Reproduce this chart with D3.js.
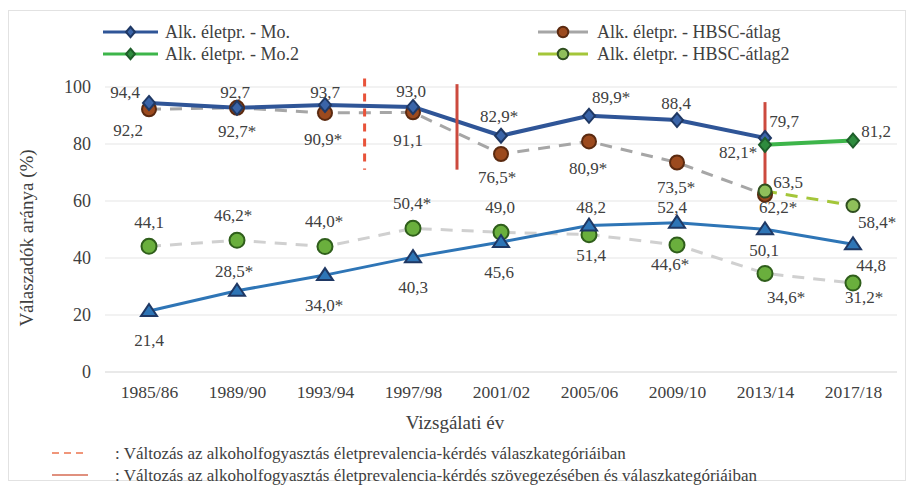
<!DOCTYPE html>
<html><head><meta charset="utf-8">
<script src="https://cdn.jsdelivr.net/npm/d3@7/dist/d3.min.js"></script>
<style>
body{margin:0;background:#fff}
svg text{font-family:"Liberation Serif","Times New Roman","DejaVu Serif",serif !important;fill:#404040}
</style>
</head><body><svg id="c" width="910" height="485"></svg>
<script>
// ---------- DATA ----------
const categories = ["1985/86","1989/90","1993/94","1997/98","2001/02","2005/06","2009/10","2013/14","2017/18"];
const yTicks = [0,20,40,60,80,100];

const moValues    = [94.4, 92.7, 93.7, 93.0, 82.9, 89.9, 88.4, 82.1, null];
const moLabels    = ["94,4","92,7","93,7","93,0","82,9*","89,9*","88,4","82,1*",null];
const mo2Values   = [null,null,null,null,null,null,null,79.7,81.2];
const mo2Labels   = [null,null,null,null,null,null,null,"79,7","81,2"];
const hbscValues  = [92.2, 92.7, 90.9, 91.1, 76.5, 80.9, 73.5, 62.2, null];
const hbscLabels  = ["92,2","92,7*","90,9*","91,1","76,5*","80,9*","73,5*","62,2*",null];
const hbsc2Values = [null,null,null,null,null,null,null,63.5,58.4];
const hbsc2Labels = [null,null,null,null,null,null,null,"63,5","58,4*"];
const triValues   = [21.4, 28.5, 34.0, 40.3, 45.6, 51.4, 52.4, 50.1, 44.8];
const triLabels   = ["21,4","28,5*","34,0*","40,3","45,6","51,4","52,4","50,1","44,8"];
const circValues  = [44.1, 46.2, 44.0, 50.4, 49.0, 48.2, 44.6, 34.6, 31.2];
const circLabels  = ["44,1","46,2*","44,0*","50,4*","49,0","48,2","44,6*","34,6*","31,2*"];

const legendNames = ["Alk. életpr. - Mo.","Alk. életpr. - Mo.2","Alk. életpr. - HBSC-átlag","Alk. életpr. - HBSC-átlag2"];
const changeMarks = [
  {after:"1993/94", frac:0.45, kind:"dashed", from:71, to:103},
  {after:"1997/98", frac:0.5,  kind:"solid",  from:71, to:101},
  {after:"2013/14", frac:0,    kind:"solid",  from:60, to:94.7}
];
const footnotes = [
  {kind:"dashed", text:": Változás az alkoholfogyasztás életprevalencia-kérdés válaszkategóriáiban"},
  {kind:"solid",  text:": Változás az alkoholfogyasztás életprevalencia-kérdés szövegezésében és válaszkategóriáiban"}
];
const xTitle = "Vizsgálati év";
const yTitle = "Válaszadók aránya (%)";

// ---------- LAYOUT / STYLE ----------
const FONT = '"Liberation Serif","Times New Roman","DejaVu Serif",serif';
const svg = d3.select("#c");
const x = d3.scalePoint().domain(categories).range([105,897]).padding(0.5);
const y = d3.scaleLinear().domain([0,100]).range([372,87]);
const FS = 17;

const labelOffsets = {
  mo:   [[-24,-10],[-2,-15],[0,-12],[-2,-15],[-2,-19],[22,-18],[-1,-17],[-27,14]],
  mo2:  [null,null,null,null,null,null,null,[19,-23],[23,-9]],
  hbsc: [[-21,21],[0,24],[-2,27],[-5,28],[-4,24],[-1,27],[-1,25],[13,13]],
  hbsc2:[null,null,null,null,null,null,null,[23,-9],[24,17]],
  circ: [[0,-24],[-4,-25],[-1,-25],[-1,-25],[-1,-25],[2,-27],[-7,20],[21,24],[11,14]],
  tri:  [[0,29],[-3,-19],[-1,30],[0,30],[-2,30],[2,30],[-5,-15],[-1,21],[18,21]]
};

function txt(sel){ return sel.style("font-family",FONT).attr("fill","#404040"); }

// border
svg.append("rect").attr("x",8.5).attr("y",10.5).attr("width",897).attr("height",470)
  .attr("fill","none").attr("stroke","#e2e2e2");

// gridlines
svg.append("g").selectAll("line").data(yTicks).join("line")
  .attr("x1",105).attr("x2",897).attr("y1",d=>y(d)).attr("y2",d=>y(d))
  .attr("stroke",d=>d===0?"#d4d4d4":"#e6e6e6").attr("stroke-width",1.2);

// axes via d3
const yAxis = svg.append("g").attr("transform","translate(105,0)")
  .call(d3.axisLeft(y).tickValues(yTicks).tickSize(0).tickPadding(14).tickFormat(d3.format("d")));
yAxis.select(".domain").remove();
txt(yAxis.selectAll("text").attr("font-size",18));

const xAxis = svg.append("g").attr("transform","translate(0,372)")
  .call(d3.axisBottom(x).tickSize(0).tickPadding(14));
xAxis.select(".domain").remove();
txt(xAxis.selectAll("text").attr("font-size",17.5));

// titles
txt(svg.append("text").attr("x",455).attr("y",422).attr("text-anchor","middle")
  .attr("dominant-baseline","central").attr("font-size",19).text(xTitle));
txt(svg.append("text").attr("transform","translate(26,238) rotate(-90)").attr("text-anchor","middle")
  .attr("dominant-baseline","central").attr("font-size",19).text(yTitle));

// series definitions
const series = [
  {key:"circ", vals:circValues, labs:circLabels, line:"#d0d0d0", w:3, dash:"12,9", marker:"circle", r:7.5, fill:"#6aaf3d", stroke:"#2f5e1b"},
  {key:"tri",  vals:triValues,  labs:triLabels,  line:"#2e75b6", w:3, dash:null,  marker:"triangle", fill:"#2e75b6", stroke:"#1f3864"},
  {key:"hbsc", vals:hbscValues, labs:hbscLabels, line:"#a6a6a6", w:3, dash:"12,9", marker:"circle", r:7, fill:"#9c4a1e", stroke:"#5b2a10"},
  {key:"mo",   vals:moValues,   labs:moLabels,   line:"#2f5597", w:4, dash:null,  marker:"diamond", fill:"#3a64a8", stroke:"#1f3864"},
  {key:"mo2",  vals:mo2Values,  labs:mo2Labels,  line:"#3db54a", w:4, dash:null,  marker:"diamond", fill:"#2e8b3e", stroke:"#1e5e2a"},
  {key:"hbsc2",vals:hbsc2Values,labs:hbsc2Labels,line:"#a4c639", w:3, dash:"12,9", marker:"circle", r:6.5, fill:"#8fbf5a", stroke:"#2f4f1f"}
];

const lineGen = d3.line().defined(d=>d.v!=null).x(d=>x(d.c)).y(d=>y(d.v));
const gLines = svg.append("g");
series.forEach(s=>{
  const pts = categories.map((c,i)=>({c, v:s.vals[i]}));
  gLines.append("path").datum(pts).attr("d",lineGen).attr("fill","none")
    .attr("stroke",s.line).attr("stroke-width",s.w).attr("stroke-dasharray",s.dash)
    .attr("stroke-linejoin","round");
});

// change marks
const step = x.step();
svg.append("g").selectAll("line").data(changeMarks).join("line")
  .attr("x1",d=>x(d.after)+d.frac*step)
  .attr("x2",d=>x(d.after)+d.frac*step)
  .attr("y1",d=>y(d.to)).attr("y2",d=>y(d.from))
  .attr("stroke",d=>d.kind==="dashed"?"#e8533a":"#cc4a3e").attr("stroke-width",3)
  .attr("stroke-dasharray",d=>d.kind==="dashed"?"8,7":null);

function drawMarker(g, type, fill, stroke, scale, r){
  scale = scale||1;
  if(type==="circle") return g.append("circle").attr("r",(r||7.5)*scale).attr("fill",fill).attr("stroke",stroke).attr("stroke-width",2);
  const p = type==="diamond" ? `M0,${-7*scale}L${6*scale},0L0,${7*scale}L${-6*scale},0Z`
                             : `M0,${-7*scale}L${8*scale},${5*scale}L${-8*scale},${5*scale}Z`;
  return g.append("path").attr("d",p).attr("fill",fill).attr("stroke",stroke).attr("stroke-width",2);
}

const gMarks = svg.append("g");
series.forEach(s=>{
  categories.forEach((c,i)=>{
    if(s.vals[i]==null) return;
    const g = gMarks.append("g").attr("transform",`translate(${x(c)},${y(s.vals[i])})`);
    drawMarker(g, s.marker, s.fill, s.stroke, 1, s.r);
  });
});

// labels
const gLab = svg.append("g");
series.forEach(s=>{
  categories.forEach((c,i)=>{
    if(s.vals[i]==null || !s.labs[i]) return;
    const off = labelOffsets[s.key][i] || [0,-15];
    txt(gLab.append("text").attr("x",x(c)+off[0]).attr("y",y(s.vals[i])+off[1])
      .attr("text-anchor","middle").attr("dominant-baseline","central")
      .attr("font-size",FS).text(s.labs[i]));
  });
});

// top legend
const legendPos = [
  {lx:103, tx:165, y:32}, {lx:103, tx:165, y:54},
  {lx:538, tx:597, y:32}, {lx:538, tx:597, y:54}
];
const legendSeries = ["mo","mo2","hbsc","hbsc2"].map(k=>series.find(s=>s.key===k));
legendSeries.forEach((s,i)=>{
  const p = legendPos[i];
  const w = i<2 ? 55 : 50;
  svg.append("line").attr("x1",p.lx).attr("x2",p.lx+w).attr("y1",p.y).attr("y2",p.y)
    .attr("stroke",s.line).attr("stroke-width",3);
  const g = svg.append("g").attr("transform",`translate(${p.lx+w/2},${p.y})`);
  drawMarker(g, s.marker, s.fill, s.stroke, 0.75, 7);
  txt(svg.append("text").attr("x",p.tx).attr("y",p.y).attr("dominant-baseline","central")
    .attr("font-size",18).text(legendNames[i]));
});

// footnotes
footnotes.forEach((f,i)=>{
  const yy = 453 + i*22;
  svg.append("line").attr("x1",52).attr("x2",88).attr("y1",yy).attr("y2",yy)
    .attr("stroke",f.kind==="dashed"?"#f0967a":"#e0907e").attr("stroke-width",2)
    .attr("stroke-dasharray",f.kind==="dashed"?"7,5":null);
  txt(svg.append("text").attr("x",115).attr("y",yy).attr("dominant-baseline","central")
    .attr("font-size",FS).text(f.text));
});
</script>
</body></html>
